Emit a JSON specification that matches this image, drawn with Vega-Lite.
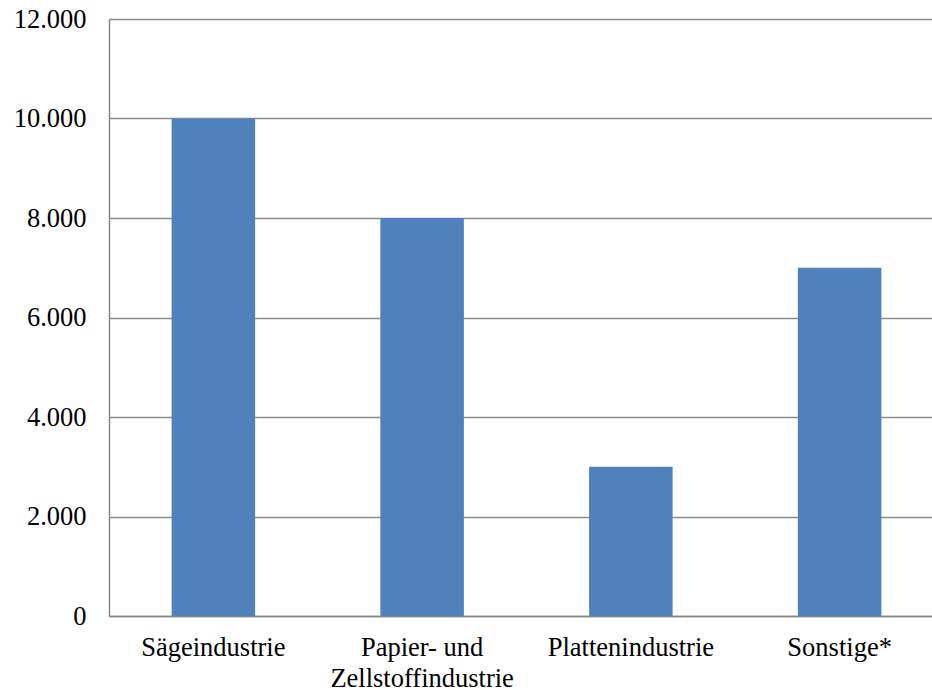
{
  "$schema": "https://vega.github.io/schema/vega-lite/v6.json",
  "autosize": {"type": "none"},
  "width": 823,
  "height": 597,
  "padding": {"left": 109, "top": 19, "right": 0, "bottom": 74},
  "background": "white",
  "data": {
    "values": [
      {"Kategorie": "Sägeindustrie", "Wert": 10000},
      {"Kategorie": "Papier- und Zellstoffindustrie", "Wert": 8000},
      {"Kategorie": "Plattenindustrie", "Wert": 3000},
      {"Kategorie": "Sonstige*", "Wert": 7000}
    ]
  },
  "config": {
    "view": {"stroke": null}
  },
  "mark": {"type": "bar", "color": "#4F81BD"},
  "encoding": {
    "x": {
      "field": "Kategorie",
      "type": "nominal",
      "sort": null,
      "scale": {"paddingInner": 0.6, "paddingOuter": 0.3, "range": [0, 835]},
      "axis": {
        "title": null,
        "labelAngle": 0,
        "labelFont": "Liberation Serif",
        "labelFontSize": 26.5,
        "labelColor": "#000000",
        "labelPadding": 18,
        "labelLineHeight": 31,
        "labelLimit": 400,
        "labelOverlap": false,
        "labelExpr": "datum.value == 'Papier- und Zellstoffindustrie' ? ['Papier- und', 'Zellstoffindustrie'] : datum.value",
        "ticks": false,
        "domainColor": "#868686",
        "domainWidth": 1.5,
        "grid": false
      }
    },
    "y": {
      "field": "Wert",
      "type": "quantitative",
      "scale": {"domain": [0, 12000], "nice": false},
      "axis": {
        "title": null,
        "values": [0, 2000, 4000, 6000, 8000, 10000, 12000],
        "labelExpr": "replace(format(datum.value, ','), ',', '.')",
        "labelFont": "Liberation Serif",
        "labelFontSize": 26.5,
        "labelColor": "#000000",
        "labelPadding": 23,
        "ticks": false,
        "domainColor": "#868686",
        "domainWidth": 1.5,
        "gridColor": "#8c8c8c",
        "gridWidth": 1.5,
        "gridOpacity": 1
      }
    }
  }
}
